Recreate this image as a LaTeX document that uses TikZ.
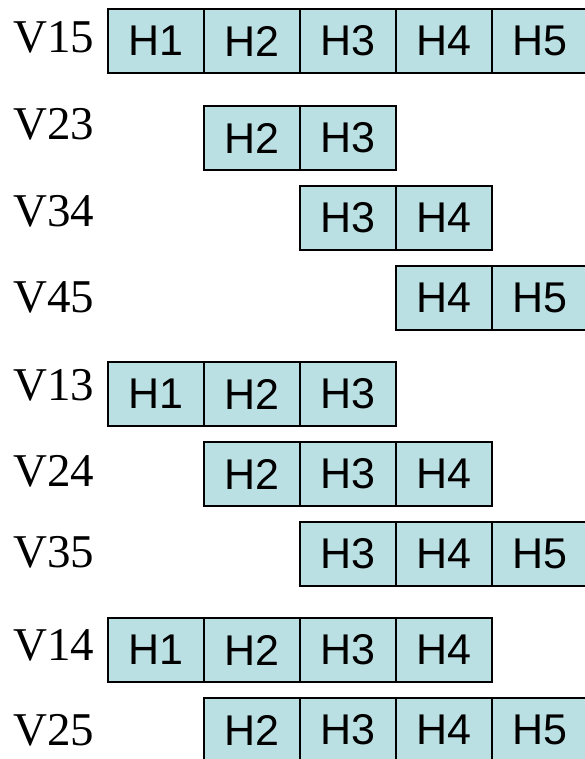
\documentclass[tikz,border=0pt]{standalone}
\usepackage{fontspec}
\setmainfont{Liberation Serif}
\newfontfamily\cellfont{Liberation Sans}
\usetikzlibrary{positioning}
\definecolor{cellblue}{RGB}{187,224,227}

\tikzset{
  cell/.style={draw=black,line width=2pt,fill=cellblue,minimum width=96pt,
    minimum height=64pt,inner sep=0pt,anchor=north west,
    font=\cellfont\fontsize{43}{43}\selectfont},
  vlabel/.style={anchor=base west,inner sep=0pt,font=\fontsize{47}{47}\selectfont}
}

\begin{document}
\begin{tikzpicture}[x=1pt,y=-1pt]
	\useasboundingbox (0,0) rectangle (584,759);
	% one row per vertex pair: name/top/baseline/first/last
	\foreach \name/\top/\base/\first/\last in {
		V15/8/53/1/5, V23/105/140/2/3, V34/185/226/3/4, V45/265/312/4/5,
		V13/361/400/1/3, V24/441/486/2/4, V35/521/567/3/5,
		V14/617/660/1/4, V25/697/745/2/5}{
		\node[vlabel] (\name) at (13,\base) {\name};
		\foreach \k in {\first,...,\last}
			\node[cell] (\name-\k) at ({107+96*(\k-1)},\top) {H\k};
	}
\end{tikzpicture}
\end{document}
